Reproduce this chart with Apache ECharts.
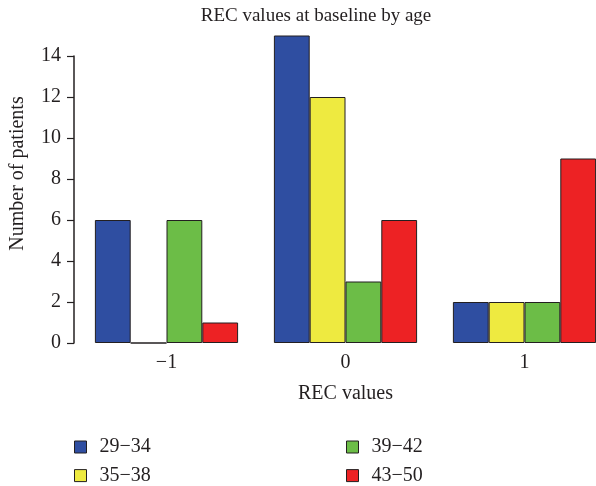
<!DOCTYPE html>
<html>
<head>
<meta charset="utf-8">
<script src="https://cdn.jsdelivr.net/npm/echarts@6/dist/echarts.min.js"></script>
<style>
  html, body { margin: 0; padding: 0; background: #fff; overflow: hidden; }
  /* plot area runs past the right edge of the window, so the last group is cut off */
  #chart { width: 614px; height: 486px; }
</style>
</head>
<body>
<div id="chart"></div>
<script>
// REC value categories on the x axis
const categories = ['\u22121', '0', '1'];
// Age groups (one bar series each)
const ageGroups = ['29\u221234', '35\u221238', '39\u221242', '43\u221250'];
// Number of patients per REC value, per age group
const age29to34 = [6, 15, 2];
const age35to38 = [0, 12, 2];
const age39to42 = [6, 3, 2];
const age43to50 = [1, 6, 9];
const seriesValues = [age29to34, age35to38, age39to42, age43to50];
const seriesColors = ['#2f4ea1', '#eeea40', '#6cbd47', '#ed2224'];

const FONT = '"Liberation Serif", "DejaVu Serif", serif';
const INK = '#231f20';

const chart = echarts.init(document.getElementById('chart'), null, { renderer: 'canvas' });

const series = ageGroups.map((name, i) => ({
  name: name,
  type: 'bar',
  data: seriesValues[i],
  barWidth: 35.8,
  barGap: '0%',
  clip: false,
  itemStyle: { color: seriesColors[i], borderColor: INK, borderWidth: 1 },
  emphasis: { disabled: true }
}));

// one legend per entry, laid out as two columns of two
const legendSpots = [[74, 437], [74, 465.6], [346, 437], [346, 465.6]];
const legends = ageGroups.map((name, i) => ({
  data: [name],
  left: legendSpots[i][0],
  top: legendSpots[i][1],
  padding: 0,
  itemWidth: 12,
  itemHeight: 12,
  icon: 'rect',
  itemStyle: { borderColor: INK, borderWidth: 1 },
  textStyle: { fontFamily: FONT, fontSize: 20, lineHeight: 20, color: INK, padding: [0, 0, 0, 8] }
}));

chart.setOption({
  animation: false,
  backgroundColor: '#fff',
  textStyle: { fontFamily: FONT },
  title: {
    text: 'REC values at baseline by age',
    left: 316,
    textAlign: 'center',
    top: 7,
    padding: 0,
    textStyle: { fontFamily: FONT, fontSize: 19, fontWeight: 'normal', color: INK }
  },
  legend: legends,
  grid: { left: 77, right: 0, top: 56, bottom: 143 },
  xAxis: {
    type: 'category',
    data: categories,
    name: 'REC values',
    nameLocation: 'middle',
    nameGap: 41,
    nameTextStyle: { fontFamily: FONT, fontSize: 20, color: INK },
    axisLine: { show: false },
    axisTick: { show: false },
    axisLabel: { fontFamily: FONT, fontSize: 20, color: INK, margin: 10 }
  },
  yAxis: {
    type: 'value',
    min: 0,
    max: 14,
    interval: 2,
    offset: 3,
    name: 'Number of patients',
    nameLocation: 'middle',
    nameGap: 46,
    nameTextStyle: { fontFamily: FONT, fontSize: 20, color: INK, padding: [0, 0, 0, 52] },
    axisLine: { show: true, lineStyle: { color: INK, width: 1.5 } },
    axisTick: { show: true, length: 7, lineStyle: { color: INK, width: 1.2 } },
    axisLabel: { fontFamily: FONT, fontSize: 20, color: INK, margin: 13 },
    splitLine: { show: false }
  },
  series: series
});
</script>
</body>
</html>
